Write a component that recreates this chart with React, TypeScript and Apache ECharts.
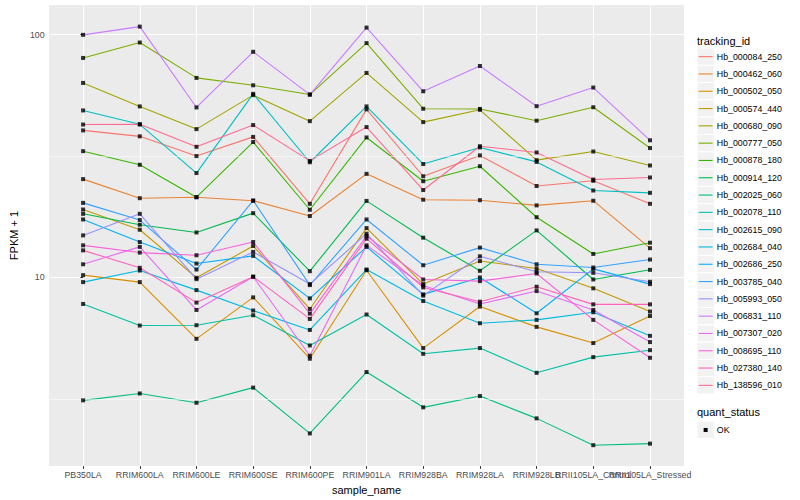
import React, { useEffect, useRef } from "react";
import * as echarts from "echarts";

const categories = [
  "PB350LA", "RRIM600LA", "RRIM600LE", "RRIM600SE", "RRIM600PE", "RRIM901LA",
  "RRIM928BA", "RRIM928LA", "RRIM928LB", "RRII105LA_Control", "RRII105LA_Stressed",
];

const trackingIds = [
  "Hb_000084_250", "Hb_000462_060", "Hb_000502_050", "Hb_000574_440", "Hb_000680_090",
  "Hb_000777_050", "Hb_000878_180", "Hb_000914_120", "Hb_002025_060", "Hb_002078_110",
  "Hb_002615_090", "Hb_002684_040", "Hb_002686_250", "Hb_003785_040", "Hb_005993_050",
  "Hb_006831_110", "Hb_007307_020", "Hb_008695_110", "Hb_027380_140", "Hb_138596_010",
];

const colors = [
  "#F8766D", "#EA8331", "#D89000", "#C09B00", "#A3A500", "#7CAE00", "#39B600", "#00BB4E",
  "#00BF7D", "#00C1A3", "#00BFC4", "#00BAE0", "#00B0F6", "#35A2FF", "#9590FF", "#C77CFF",
  "#E76BF3", "#FA62DB", "#FF62BC", "#FF6C91",
];

const hb000084_250 = [40.3, 38.1, 31.6, 37.9, 20.1, 49.2, 26.1, 31.8, 23.8, 25.0, 20.1];
const hb000462_060 = [25.4, 21.2, 21.4, 20.7, 17.9, 26.7, 20.9, 20.8, 19.8, 20.7, 13.2];
const hb000502_050 = [10.22, 9.57, 5.59, 8.28, 4.63, 10.71, 5.12, 7.59, 6.26, 5.37, 6.94];
const hb000574_440 = [19.04, 15.72, 9.97, 13.48, 7.42, 15.97, 9.39, 11.68, 10.89, 9.02, 7.24];
const hb000680_090 = [63.2, 50.6, 40.8, 56.3, 44.0, 69.5, 43.6, 49.0, 30.4, 33.0, 28.9];
const hb000777_050 = [80.1, 92.7, 66.3, 61.8, 56.6, 92.2, 49.5, 49.4, 44.2, 50.2, 34.1];
const hb000878_180 = [33.1, 29.1, 21.4, 36.1, 19.0, 37.7, 24.9, 28.7, 17.7, 12.5, 13.9];
const hb000914_120 = [18.28, 16.48, 15.32, 18.4, 10.61, 20.66, 14.58, 10.65, 15.62, 9.81, 10.75];
const hb002025_060 = [3.12, 3.33, 3.05, 3.52, 2.28, 4.08, 2.92, 3.25, 2.63, 2.04, 2.07];
const hb002078_110 = [7.78, 6.34, 6.36, 6.99, 5.25, 7.04, 4.85, 5.12, 4.05, 4.7, 5.02];
const hb002615_090 = [48.7, 42.7, 26.9, 57.0, 29.8, 50.6, 29.3, 34.3, 29.9, 22.8, 22.3];
const hb002684_040 = [9.57, 10.68, 8.87, 7.31, 6.08, 10.78, 8.0, 6.48, 6.69, 7.19, 5.75];
const hb002686_250 = [17.33, 13.99, 11.41, 12.27, 8.2, 13.36, 8.52, 10.0, 7.12, 10.85, 9.39];
const hb003785_040 = [20.28, 17.23, 10.78, 20.72, 9.3, 17.33, 11.23, 13.27, 11.33, 10.99, 11.85];
const hb005993_050 = [14.9, 18.28, 9.84, 12.74, 9.39, 15.14, 8.42, 12.22, 10.55, 10.45, 9.6];
const hb006831_110 = [99.7, 107.8, 50.1, 84.9, 56.6, 106.8, 58.4, 74.2, 50.7, 60.5, 36.7];
const hb007307_020 = [11.33, 13.36, 7.35, 10.07, 4.76, 13.56, 9.27, 7.78, 8.79, 7.35, 5.42];
const hb008695_110 = [13.56, 12.66, 12.34, 13.99, 7.1, 14.82, 9.81, 9.66, 10.38, 6.69, 4.67];
const hb027380_140 = [12.93, 10.96, 7.88, 10.07, 6.75, 14.44, 9.1, 7.95, 9.16, 7.75, 7.75];
const hb138596_010 = [42.6, 42.7, 34.5, 42.4, 30.2, 41.6, 22.9, 34.7, 32.7, 25.3, 25.8];

const seriesValues = [
  hb000084_250, hb000462_060, hb000502_050, hb000574_440, hb000680_090,
  hb000777_050, hb000878_180, hb000914_120, hb002025_060, hb002078_110,
  hb002615_090, hb002684_040, hb002686_250, hb003785_040, hb005993_050,
  hb006831_110, hb007307_020, hb008695_110, hb027380_140, hb138596_010,
];

const yTicks = [10, 100];
const yMinorBreaks = [3.1623, 31.623];
const quantStatus = ["OK"];

const FONT = "'Liberation Sans', Arial, Helvetica, sans-serif";

export default function App() {
  const ref = useRef<HTMLDivElement>(null);

  useEffect(() => {
    const chart = echarts.init(ref.current!, null, { renderer: "svg" });
    const xIdx = categories.map((_, i) => i);
    // labels split over two overlaid axes so that ECharts does not drop overlapping neighbours
    const xLabelsA = xIdx.filter((i) => i % 2 === 0);
    const xLabelsB = xIdx.filter((i) => i % 2 === 1);

    const lineSeries: any[] = seriesValues.map((vals, k) => ({
      type: "line",
      name: trackingIds[k],
      data: vals.map((v, i) => [i, v]),
      showSymbol: false,
      symbol: "none",
      silent: true,
      z: 3,
      lineStyle: { color: colors[k], width: 1.1 },
      itemStyle: { color: colors[k] },
    }));

    const gridHelper = {
      type: "line",
      name: "minor",
      data: [[0, 10]],
      showSymbol: false,
      symbol: "none",
      silent: true,
      z: 1,
      lineStyle: { opacity: 0 },
      markLine: {
        silent: true,
        symbol: "none",
        label: { show: false },
        animation: false,
        lineStyle: { color: "#FFFFFF", width: 0.55, type: "solid" },
        data: yMinorBreaks.map((v) => ({ yAxis: v })),
      },
    };

    const points = {
      type: "scatter",
      name: quantStatus[0],
      data: seriesValues.flatMap((vals) => vals.map((v, i) => [i, v])),
      symbol: "rect",
      symbolSize: 4,
      silent: true,
      z: 5,
      itemStyle: { color: "#000000" },
    };

    const keyX = 697;
    const keyTop = 48;
    const keyH = 17.3;
    const legendGraphics: any[] = [
      {
        type: "text",
        x: keyX,
        y: 40.7,
        style: { text: "tracking_id", fontSize: 11, fontFamily: FONT, fill: "#000", verticalAlign: "middle" },
      },
    ];
    trackingIds.forEach((name, k) => {
      const top = keyTop + k * keyH;
      const cy = top + keyH / 2;
      legendGraphics.push(
        { type: "rect", shape: { x: keyX, y: top, width: keyH, height: keyH }, style: { fill: "#F2F2F2", stroke: "#FFFFFF", lineWidth: 1 } },
        { type: "line", shape: { x1: keyX + 1.7, y1: cy, x2: keyX + keyH - 1.7, y2: cy }, style: { stroke: colors[k], lineWidth: 1.1 } },
        { type: "text", x: keyX + keyH + 2.5, y: cy, style: { text: name, fontSize: 8.8, fontFamily: FONT, fill: "#000", verticalAlign: "middle" } },
      );
    });
    const qTop = 421.3;
    legendGraphics.push(
      { type: "text", x: keyX, y: 411.7, style: { text: "quant_status", fontSize: 11, fontFamily: FONT, fill: "#000", verticalAlign: "middle" } },
      { type: "rect", shape: { x: keyX, y: qTop, width: keyH, height: keyH }, style: { fill: "#F2F2F2", stroke: "#FFFFFF", lineWidth: 1 } },
      { type: "rect", shape: { x: keyX + keyH / 2 - 2, y: qTop + keyH / 2 - 2, width: 4, height: 4 }, style: { fill: "#000" } },
      { type: "text", x: keyX + keyH + 2.5, y: qTop + keyH / 2, style: { text: quantStatus[0], fontSize: 8.8, fontFamily: FONT, fill: "#000", verticalAlign: "middle" } },
    );

    const labelStyle = {
      formatter: (v: number) => categories[Math.round(v)] ?? "",
      fontSize: 8.8,
      color: "#4D4D4D",
      margin: 4,
      fontFamily: FONT,
      showMinLabel: true,
      showMaxLabel: true,
      hideOverlap: false,
    };

    chart.setOption({
      animation: false,
      textStyle: { fontFamily: FONT },
      grid: {
        left: 40,
        top: 5,
        width: 644,
        height: 463.7,
        show: true,
        backgroundColor: "#EBEBEB",
        borderWidth: 0,
        containLabel: false,
      },
      xAxis: [
        {
          type: "value",
          position: "bottom",
          min: -0.6,
          max: 10.6,
          name: "sample_name",
          nameLocation: "middle",
          nameGap: 13,
          nameTextStyle: { fontSize: 11, color: "#000", fontFamily: FONT },
          axisLine: { show: false },
          axisTick: { show: true, customValues: xIdx, length: 2.75, lineStyle: { color: "#333333", width: 1.07 } },
          axisLabel: { ...labelStyle, customValues: xLabelsA },
          splitLine: { show: true, lineStyle: { color: "#FFFFFF", width: 1.07 } },
        },
        {
          type: "value",
          position: "bottom",
          offset: 0,
          min: -0.6,
          max: 10.6,
          axisLine: { show: false },
          axisTick: { show: false, customValues: xLabelsB },
          axisLabel: { ...labelStyle, customValues: xLabelsB },
          splitLine: { show: false },
        },
      ],
      yAxis: {
        type: "log",
        logBase: 10,
        min: 1.673,
        max: 132.3,
        name: "FPKM + 1",
        nameLocation: "middle",
        nameGap: 22,
        nameRotate: 90,
        nameTextStyle: { fontSize: 11, color: "#000", fontFamily: FONT },
        axisLine: { show: false },
        axisTick: { show: true, customValues: yTicks, length: 2.75, lineStyle: { color: "#333333", width: 1.07 } },
        axisLabel: {
          customValues: yTicks,
          formatter: (v: number) => String(Math.round(v)),
          fontSize: 8.8,
          color: "#4D4D4D",
          margin: 4.5,
          fontFamily: FONT,
        },
        splitLine: { show: true, lineStyle: { color: "#FFFFFF", width: 1.07 } },
      },
      graphic: legendGraphics,
      series: [gridHelper, ...lineSeries, points],
    });

    return () => chart.dispose();
  }, []);

  return (
    <div
      ref={ref}
      style={{ position: "fixed", left: 0, top: 0, width: 800, height: 500, background: "#FFFFFF" }}
    />
  );
}
